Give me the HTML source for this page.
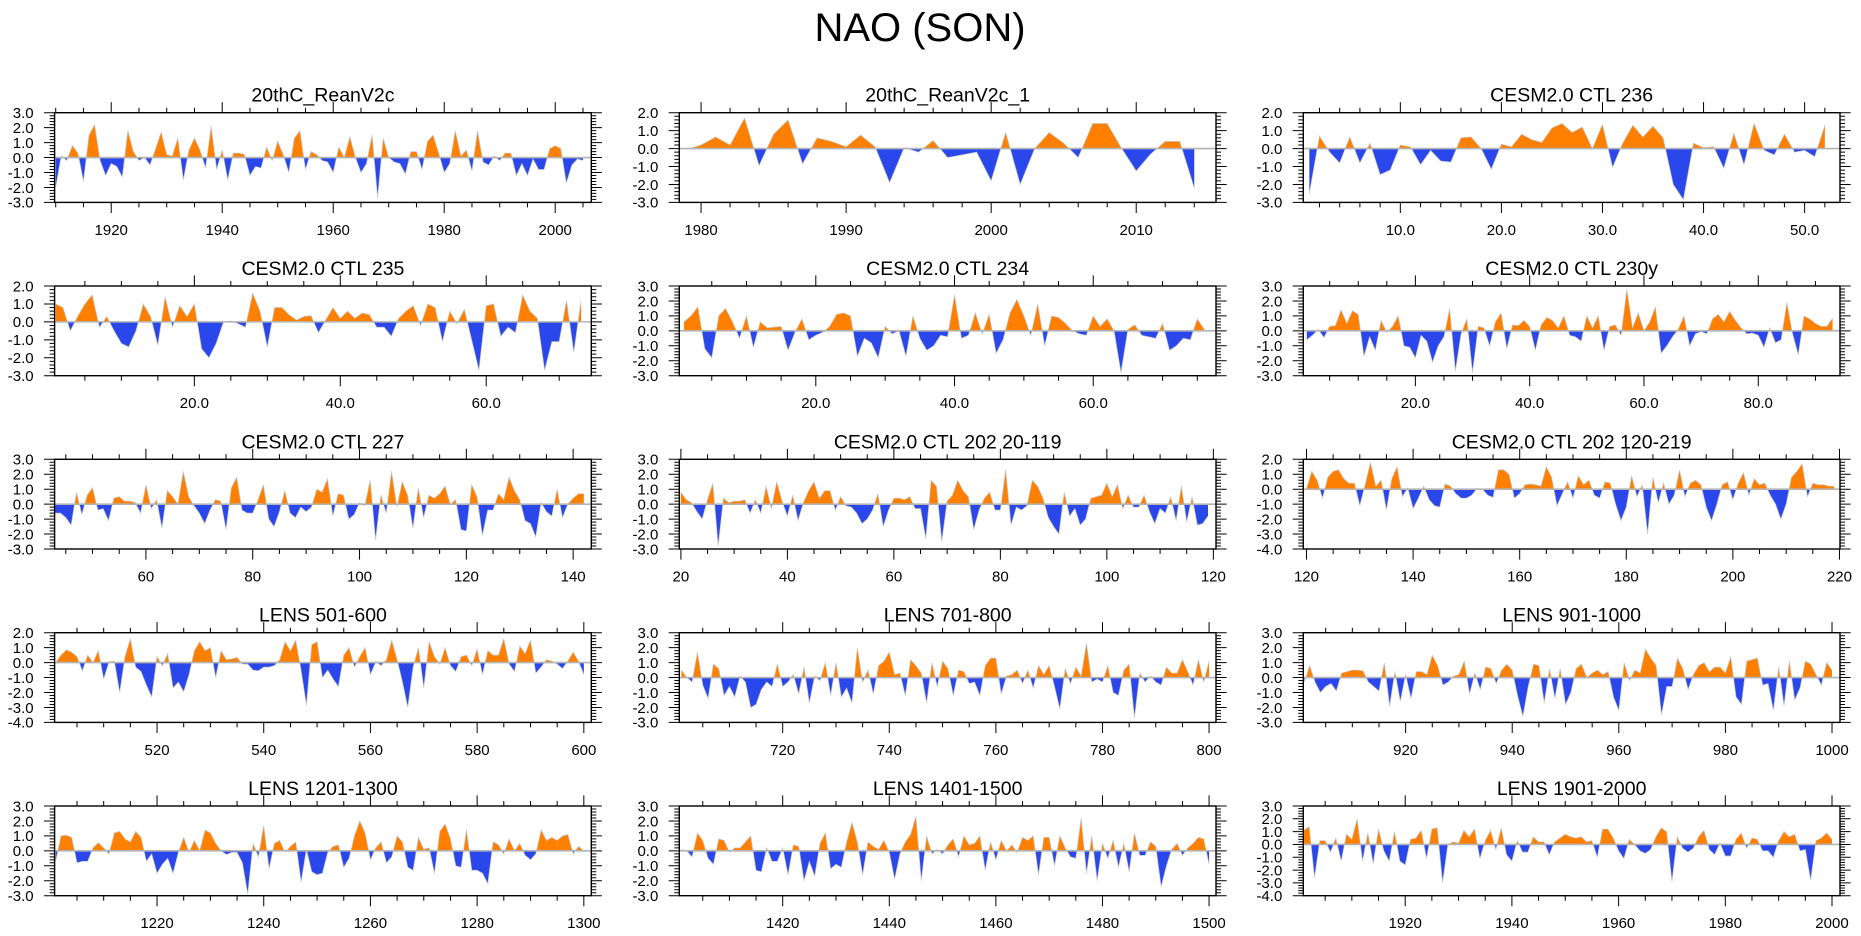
<!DOCTYPE html>
<html><head><meta charset="utf-8"><title>NAO (SON)</title>
<style>
html,body{margin:0;padding:0;background:#fff;}
svg{display:block;font-family:"Liberation Sans",Arial,sans-serif;}
</style></head>
<body>
<svg id="chart" width="1861" height="936" viewBox="0 0 1861 936" xmlns="http://www.w3.org/2000/svg">
<rect x="0" y="0" width="1861" height="936" fill="#ffffff"/>
<text x="920" y="41" font-size="40" text-anchor="middle" fill="#000">NAO (SON)</text>
<g id="panels"></g>
</svg>
<script>
// ---- data (x start years + values per panel) ----
const panelTitles = ["20thC_ReanV2c","20thC_ReanV2c_1","CESM2.0 CTL 236","CESM2.0 CTL 235","CESM2.0 CTL 234","CESM2.0 CTL 230y","CESM2.0 CTL 227","CESM2.0 CTL 202 20-119","CESM2.0 CTL 202 120-219","LENS 501-600","LENS 701-800","LENS 901-1000","LENS 1201-1300","LENS 1401-1500","LENS 1901-2000"];
const xStarts = [1910,1979,1,1,1,1,43,20,120,501,701,901,1201,1401,1901];
const xMins = [1909.8,1978.5,0.4,0.85,0.32,0.39,42.9,19.7,119.4,500.8,700.6,900.8,1200.8,1400.6,1900.9];
const xMaxs = [2006.5,2015.5,53.5,74.4,77.7,94.3,143.4,120.5,220.1,601.4,801.3,1001.5,1301.4,1501.3,2001.5];
const yMins = [-3,-3,-3,-3,-3,-3,-3,-3,-4,-4,-3,-3,-3,-3,-4];
const yMaxs = [3,2,2,2,3,3,3,3,2,2,3,3,3,3,3];
const xMajorSteps = [20,10,10,20,20,20,20,20,20,20,20,20,20,20,20];
const xMinorSteps = [5,2,2,5,5,5,5,5,5,5,5,5,5,5,5];
const xLabelDecimals = [0,0,1,1,1,1,0,0,0,0,0,0,0,0,0];

const p1Values = [-2.0,0.1,-0.2,0.8,0.3,-1.6,1.5,2.2,-0.2,-1.2,-0.4,-0.6,-1.3,1.8,0.4,-0.2,0.0,-0.5,0.6,1.7,0.2,0.1,1.3,-1.5,0.5,1.3,0.5,-0.7,2.1,-0.8,0.5,-1.5,0.3,0.3,0.2,-1.2,-0.6,-0.7,0.7,-0.2,1.1,0.2,-1.0,1.3,1.8,-0.8,0.4,0.2,-0.2,-0.3,-1.0,0.7,0.0,1.4,0.0,-1.0,-0.4,1.5,-2.7,1.3,0.0,-0.3,-0.4,-1.1,0.4,0.4,-0.8,1.1,1.5,0.3,-1.0,-0.4,1.8,0.1,0.5,-0.9,1.8,-0.3,-0.5,0.1,-0.2,0.3,0.3,-1.2,-0.4,-1.2,-0.1,-0.8,-0.8,0.6,0.8,0.6,-1.7,-0.5,-0.1,-0.2];
const p2Values = [-0.05,0.2,0.65,0.2,1.7,-0.95,0.8,1.6,-0.85,0.6,0.4,0.1,0.75,0.1,-1.9,0.05,-0.2,0.45,-0.5,-0.35,-0.2,-1.8,0.9,-2.0,0.0,0.9,0.3,-0.5,1.4,1.4,0.0,-1.25,-0.3,0.4,0.4,-2.2];
const p3Values = [-2.5,0.7,-0.2,-0.8,0.65,-0.8,0.3,-1.45,-1.2,0.2,0.1,-0.9,-0.1,-0.7,-0.75,0.6,0.65,0.0,-1.15,0.25,0.1,0.8,0.5,0.35,1.15,1.4,0.9,1.2,0.0,1.35,-1.05,0.3,1.3,0.65,1.25,0.6,-2.0,-2.85,0.3,0.05,0.1,-1.1,0.85,-0.9,1.4,-0.1,-0.35,0.8,-0.2,-0.1,-0.45,1.3];
const p4Values = [1.0,0.8,-0.5,0.3,1.0,1.5,-0.3,0.3,-0.5,-1.2,-1.4,-0.5,1.0,0.3,-1.3,1.4,-0.3,0.9,0.3,1.0,-1.5,-2.0,-1.2,0.0,0.05,-0.1,-0.3,1.6,0.6,-1.4,0.8,0.8,0.4,0.1,0.3,0.35,-0.6,0.1,0.8,0.2,0.6,0.2,0.5,0.4,-0.3,-0.3,-0.8,0.2,0.6,0.9,-0.2,1.0,0.8,-1.1,0.6,-0.1,0.7,-1.0,-2.7,0.9,1.0,-0.8,-0.3,-0.6,1.5,0.6,0.2,-2.7,-1.1,-1.1,1.2,-1.7,1.2];
const p5Values = [0.6,1.0,1.6,-1.2,-1.8,1.0,1.5,0.6,-0.5,1.0,-1.1,0.6,0.2,0.25,0.3,-1.3,-0.1,0.8,-0.6,-0.3,-0.1,0.3,1.1,1.2,1.0,-1.7,-0.5,-0.8,-1.8,0.3,-0.2,0.0,-1.7,1.0,-0.5,-1.3,-1.0,-0.3,-0.4,2.4,-0.5,-0.3,1.2,-0.2,1.1,-1.5,-0.6,1.2,2.1,1.0,-0.3,1.8,-1.0,1.0,0.9,0.5,0.0,-0.2,-0.3,1.0,0.3,0.8,0.0,-2.8,0.1,0.4,-0.3,-0.4,-0.5,0.5,-1.3,-1.0,-0.5,-0.6,0.8,0.1];
const p6Values = [-0.6,-0.3,0.1,-0.45,0.3,0.35,1.4,0.5,1.35,1.1,-1.7,-0.4,-1.3,0.7,-0.1,0.3,1.0,-1.0,-1.1,-1.8,-0.3,-0.7,-2.1,-1.0,-0.4,1.5,-2.7,-0.2,0.8,-2.8,0.3,0.2,-1.0,0.6,1.2,-1.2,0.4,0.35,0.7,0.3,-1.3,0.4,0.9,0.7,0.2,1.0,-0.3,-0.4,-0.7,1.0,0.2,1.0,-1.3,0.3,0.4,-0.3,2.8,0.2,1.2,0.0,0.6,1.6,-1.5,-1.0,-0.4,0.1,1.0,-1.0,-0.2,-0.05,-0.2,0.8,1.1,0.6,1.3,0.7,0.2,-0.2,-0.15,-0.3,-1.1,0.2,-0.8,-0.6,1.9,-0.2,-1.6,1.0,0.8,0.5,0.3,0.3,0.85];
const p7Values = [-0.6,-0.6,-0.9,-1.4,0.8,-0.7,0.6,1.1,-0.4,-0.3,-1.1,0.4,0.5,0.2,0.2,0.1,-0.6,1.3,-0.3,0.3,-1.6,0.9,0.5,0.0,2.2,0.5,-0.1,-0.6,-1.3,-0.4,0.3,0.2,-1.7,1.1,1.8,-0.4,-0.6,-0.6,0.3,1.3,-1.0,-1.5,-0.5,0.9,-0.6,-0.9,-0.2,-0.5,-0.2,1.0,0.8,1.7,-0.8,0.7,0.6,-1.0,-0.7,0.1,-0.1,1.6,-2.4,0.6,-0.6,2.2,-0.2,1.5,0.6,-1.6,1.1,-0.9,0.6,0.4,0.7,1.2,0.0,0.3,-1.7,-1.8,1.3,0.5,-2.1,-0.4,-0.4,0.7,0.3,1.8,0.9,0.3,-1.1,-1.3,-2.2,0.1,-0.5,-0.8,1.0,-0.9,0.0,0.4,0.7,0.7];
const p8Values = [0.8,0.3,0.1,-0.5,-1.0,0.3,1.4,-2.8,0.4,0.1,0.2,0.2,0.3,-0.6,0.3,-0.6,1.2,-0.3,1.5,0.2,-0.8,0.6,-1.1,0.1,0.9,1.5,0.4,0.9,0.9,-0.4,0.5,-0.1,-0.2,-0.6,-1.3,-1.0,-0.4,0.7,-1.5,-0.4,0.4,0.4,0.3,0.5,-0.3,-0.3,-2.3,1.6,1.2,-2.5,0.2,0.6,1.6,0.9,0.5,-1.7,-0.4,0.4,0.8,-0.4,-0.4,2.3,-1.4,-0.2,-0.4,-0.1,1.6,1.2,0.4,-0.9,-1.5,-2.0,0.8,-0.8,-0.3,-1.4,-1.0,0.4,0.5,0.6,1.4,0.5,1.3,-0.3,0.6,-0.2,-0.2,0.6,-0.5,-1.3,-0.3,-0.6,0.5,-1.1,1.2,-1.2,0.5,-1.4,-1.3,-0.8];
const p9Values = [0.05,1.2,0.6,-0.6,0.8,1.2,1.3,0.7,0.4,0.4,-1.1,0.3,1.8,0.2,0.6,-1.4,0.7,1.5,-0.5,0.1,-1.3,-0.6,0.2,-0.7,-1.1,-1.2,0.35,0.2,-0.3,-0.6,-0.6,-0.4,0.05,0.0,-0.4,-0.55,1.3,1.3,1.0,-0.6,-0.3,0.3,0.35,0.3,0.2,1.5,0.8,-1.1,-0.3,0.5,-0.6,0.9,0.3,0.6,-0.4,-0.6,0.5,0.4,-1.0,-2.1,-1.2,0.9,-0.5,0.3,-3.0,0.8,-0.9,0.4,-1.0,-0.4,1.3,-0.5,0.4,0.6,0.3,-1.2,-2.1,-1.0,0.3,0.5,-0.7,0.4,1.1,-0.4,0.7,0.3,0.4,-0.4,-1.0,-2.0,-1.0,0.8,1.2,1.7,-0.5,0.4,0.3,0.3,0.2,0.2];
const p10Values = [0.0,0.5,0.85,0.7,0.4,-0.55,0.5,0.0,0.8,-1.1,0.05,0.1,-2.0,0.4,1.6,-0.3,-0.6,-1.5,-2.3,0.4,-0.2,0.6,-1.7,-1.3,-1.95,-0.8,0.8,1.4,0.8,1.0,-1.0,0.8,0.2,0.25,0.35,-0.1,-0.1,-0.5,-0.55,-0.3,-0.3,-0.2,0.2,1.4,0.8,1.5,-0.5,-2.85,1.2,1.4,-1.0,-0.5,-1.1,-1.6,0.5,1.0,-0.3,0.4,1.0,-0.8,0.05,-0.2,0.2,1.5,0.2,-1.3,-3.0,-0.3,1.0,-1.7,1.4,0.4,-0.1,1.0,-0.2,-0.6,0.4,0.5,-0.2,0.9,-0.8,0.8,0.5,0.5,1.6,-0.1,-0.6,1.1,0.6,1.5,-0.7,-0.3,0.2,0.1,-0.1,-0.4,0.1,0.7,0.1,-0.8];
const p11Values = [0.5,0.0,-0.3,1.7,-0.5,-1.4,0.9,0.6,-1.2,-0.6,-1.3,0.1,-0.3,-2.0,-1.8,-0.8,-0.3,-0.6,0.9,-0.6,-0.3,0.2,-1.1,0.7,-1.7,0.1,-0.2,1.0,-1.2,1.0,-1.3,-0.7,-1.7,2.0,-0.3,0.5,-1.1,0.8,1.1,1.7,0.2,0.3,-1.2,1.2,0.8,0.3,-1.7,1.0,-0.6,1.1,0.6,-1.2,0.5,0.4,-0.4,-0.3,-1.2,0.8,1.3,1.3,-1.1,0.1,0.2,0.5,-0.4,0.5,-0.7,0.8,0.2,0.8,-0.6,-2.1,0.6,-0.4,0.7,0.1,2.3,-0.3,-0.1,-0.3,0.8,-1.0,-1.2,0.5,0.9,-2.7,0.3,-0.3,0.1,-0.3,-0.5,0.7,0.3,0.3,1.2,0.4,-0.5,1.2,-0.3,1.1];
const p12Values = [-0.3,0.8,-0.3,-1.0,-0.6,-0.4,-0.9,0.3,0.4,0.5,0.5,0.45,-0.3,-0.6,-0.9,1.0,-1.9,0.4,-1.6,0.2,-1.4,0.4,0.4,0.2,1.5,0.8,-0.5,-0.3,0.1,0.2,1.1,-1.1,0.3,-0.8,0.7,0.6,-0.4,0.5,0.9,0.5,-1.2,-2.6,-0.6,0.9,0.8,-1.7,0.6,-1.4,0.6,-1.8,-1.0,0.6,0.9,0.0,0.3,0.5,0.2,0.4,-1.3,-2.2,1.0,-0.2,0.5,0.3,1.9,1.3,0.8,-2.5,-0.6,-0.6,1.3,0.6,-0.8,0.2,0.8,1.0,0.4,0.7,0.7,0.3,1.4,-1.3,-1.8,1.1,1.2,1.3,-0.5,-0.4,-2.2,0.7,-1.9,1.1,-1.5,-0.7,1.1,0.9,0.2,-0.5,1.0,0.5];
const p13Values = [-0.7,1.0,1.05,0.9,-0.8,-0.7,-0.7,0.2,0.55,0.2,-0.2,1.2,1.3,0.8,0.6,1.3,0.9,-0.7,-0.2,-1.5,-0.9,-0.5,-1.5,-0.1,0.9,-0.1,0.7,0.0,1.4,1.2,0.5,0.0,-0.25,-0.1,-0.1,-0.8,-2.9,0.5,-0.4,1.7,-1.2,0.5,0.7,-0.1,0.3,0.6,-2.1,0.1,-1.4,-1.6,-1.5,-0.1,0.3,0.4,-1.1,-0.5,1.0,2.0,1.2,-0.6,0.2,0.6,-0.8,-0.4,1.0,0.6,-1.1,-1.3,0.9,0.1,0.2,-1.5,1.3,1.8,0.8,-1.0,-1.1,1.4,-1.3,-1.3,-1.5,-2.2,0.6,0.4,-0.2,0.8,0.0,0.5,-0.3,-0.6,-0.2,1.4,0.7,0.9,0.7,1.0,1.1,-0.2,0.3,0.0];
const p14Values = [0.1,0.0,-0.4,1.2,0.7,-0.5,-0.9,0.8,0.7,-0.1,0.2,0.2,0.6,1.0,-1.3,-1.4,0.2,-0.7,-0.7,0.2,-1.6,0.4,0.3,-2.0,-0.7,-1.7,0.5,1.2,-1.2,-0.9,-1.1,0.6,1.9,0.6,-1.6,0.6,0.3,0.1,0.7,-0.1,-1.9,-0.2,0.6,1.1,2.3,-2.0,1.0,-0.2,0.1,-0.2,0.4,0.8,-0.4,1.0,0.4,0.5,1.0,-1.3,0.6,-0.6,0.7,0.0,0.4,-0.1,0.9,0.7,1.0,-1.6,0.9,0.9,-1.0,1.0,0.2,-0.4,-0.5,2.2,-1.5,1.0,-2.0,0.5,-0.5,0.7,-1.1,0.5,-1.4,1.2,-0.3,-0.3,0.6,0.3,-2.4,-1.0,0.1,0.5,-0.3,0.2,0.5,0.9,0.8,-0.9];
const p15Values = [1.1,1.4,-2.6,0.3,0.3,-0.6,0.5,-1.3,0.8,0.4,2.0,-1.3,0.9,-1.5,1.2,-0.5,-1.3,1.0,-1.3,-1.6,0.4,0.5,1.1,-1.1,1.2,1.3,-3.0,0.0,0.2,0.1,1.1,0.6,1.2,-1.1,0.3,1.1,-0.4,1.3,-0.8,-1.3,0.3,-0.6,-0.6,0.6,0.2,0.2,-0.8,0.2,0.5,0.8,0.6,0.5,0.6,0.2,0.3,-1.0,1.2,1.2,0.5,-0.5,-1.1,0.4,0.0,-0.5,-0.7,-0.4,0.6,1.3,1.0,-2.9,0.6,-0.3,-0.6,-0.3,0.6,1.1,-0.4,-0.8,0.1,-0.9,-0.9,0.4,0.9,-0.3,0.5,0.4,-0.5,-0.5,-1.0,0.3,1.0,0.6,0.8,-0.5,-0.4,-2.8,0.3,0.5,0.9,0.4];
const allValues = [p1Values,p2Values,p3Values,p4Values,p5Values,p6Values,p7Values,p8Values,p9Values,p10Values,p11Values,p12Values,p13Values,p14Values,p15Values];

// ---- layout ----
const colLeft = [54.6, 679.3, 1303.3];
const boxW = 536.7;
const rowTop = [112.7, 286.0, 459.3, 632.7, 806.0];
const boxH = 89.7;
const NS = "http://www.w3.org/2000/svg";
const root = document.getElementById("panels");

function mk(tag, attrs, parent) {
  const el = document.createElementNS(NS, tag);
  for (const k in attrs) el.setAttribute(k, attrs[k]);
  parent.appendChild(el);
  return el;
}

for (let p = 0; p < 15; p++) {
  const L = colLeft[p % 3], T = rowTop[Math.floor(p / 3)];
  const R = L + boxW, B = T + boxH;
  const xmin = xMins[p], xmax = xMaxs[p], ymin = yMins[p], ymax = yMaxs[p];
  const sx = v => L + (v - xmin) / (xmax - xmin) * boxW;
  const sy = v => T + (ymax - v) / (ymax - ymin) * boxH;
  const g = mk("g", {}, root);
  
  

  const title = mk("text", {x: (L + R) / 2, y: T - 11, "font-size": 19.5, "text-anchor": "middle", fill: "#000"}, g);
  title.textContent = panelTitles[p];
  
  

  const vals = allValues[p];
  const xs = vals.map((v, i) => xStarts[p] + i);
  // build pos/neg area polygons
  function area(sign) {
    let pts = [[xs[0], 0]];
    for (let i = 0; i < vals.length; i++) {
      if (i > 0) {
        const a = vals[i - 1], b = vals[i];
        if ((a > 0 && b < 0) || (a < 0 && b > 0)) {
          const xc = xs[i - 1] + a / (a - b) * (xs[i] - xs[i - 1]);
          pts.push([xc, 0]);
        }
      }
      const v = sign > 0 ? Math.max(vals[i], 0) : Math.min(vals[i], 0);
      pts.push([xs[i], v]);
    }
    pts.push([xs[xs.length - 1], 0]);
    return "M" + pts.map(q => sx(q[0]).toFixed(2) + "," + sy(q[1]).toFixed(2)).join("L") + "Z";
  }
  const pos = mk("path", {d: area(1), fill: "#ff8000", stroke: "none"}, g);
  
  
  const neg = mk("path", {d: area(-1), fill: "#2a47ec", stroke: "none"}, g);
  
  
  const line = mk("polyline", {points: xs.map((x, i) => sx(x).toFixed(2) + "," + sy(vals[i]).toFixed(2)).join(" "), fill: "none", stroke: "#c8c8c8", "stroke-width": 0.7}, g);
  
  
  const zl = mk("line", {x1: L, x2: R, y1: sy(0), y2: sy(0), stroke: "#b4b4b4", "stroke-width": 1.6}, g);
  
  

  // ticks
  let tk = "";
  // y ticks
  for (let k = Math.round(ymin * 5); k <= Math.round(ymax * 5); k++) {
    const v = k / 5, y = sy(v).toFixed(2);
    const major = (k % 5 === 0);
    const len = major ? 10.6 : 5;
    tk += "M" + L + "," + y + "h" + (-len) + "M" + R + "," + y + "h" + len;
    if (major) {
      const lab = mk("text", {x: L - 21, y: sy(v) + 5.3, "font-size": 15, "text-anchor": "end", fill: "#000"}, g);
      lab.textContent = v.toFixed(1);
      
      
    }
  }
  // x ticks
  const mn = xMinorSteps[p], mj = xMajorSteps[p];
  for (let v = Math.ceil(xmin / mn) * mn; v <= xmax + 1e-9; v += mn) {
    const x = sx(v).toFixed(2);
    const major = Math.abs(v / mj - Math.round(v / mj)) < 1e-9;
    const len = major ? 10.6 : 5;
    tk += "M" + x + "," + T + "v" + (-len) + "M" + x + "," + B + "v" + len;
    if (major) {
      const lab = mk("text", {x: sx(v), y: B + 32.5, "font-size": 15, "text-anchor": "middle", fill: "#000"}, g);
      lab.textContent = v.toFixed(xLabelDecimals[p]);
      
      
    }
  }
  const ticks = mk("path", {d: tk, stroke: "#000", "stroke-width": 1, fill: "none"}, g);
  
  
  const frame = mk("rect", {x: L, y: T, width: boxW, height: boxH, fill: "none", stroke: "#000", "stroke-width": 1.4}, g);
  
  
}
</script>
</body></html>
